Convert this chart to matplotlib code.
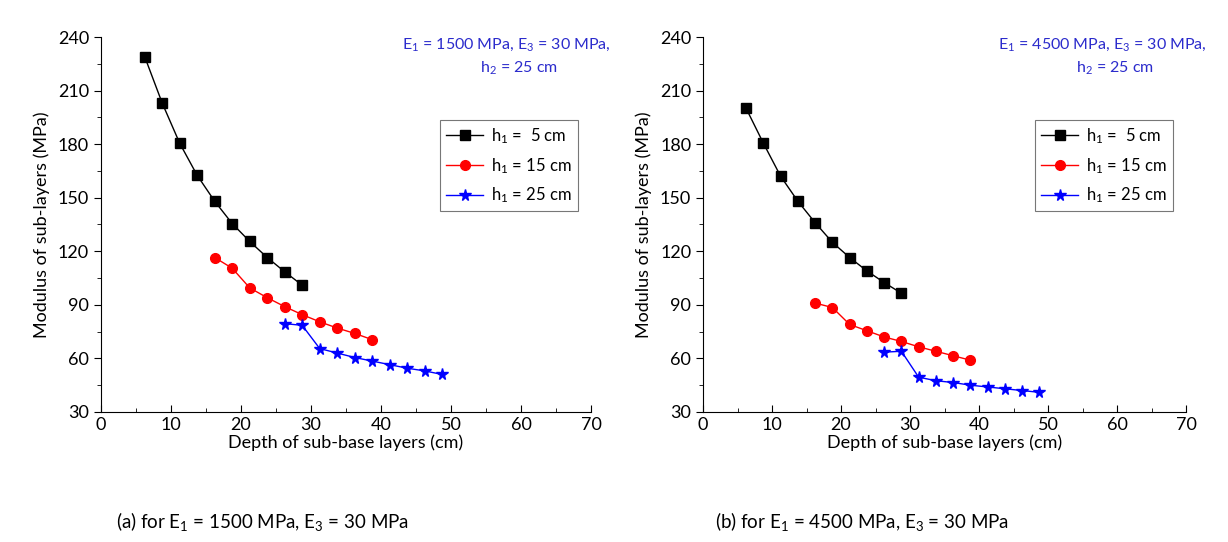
import matplotlib.pyplot as plt

plt.rcParams['font.family'] = ['Lato', 'DejaVu Sans']
plt.rcParams['mathtext.fontset'] = 'custom'
plt.rcParams['mathtext.rm'] = 'Lato'
plt.rcParams['mathtext.it'] = 'Lato'
plt.rcParams['mathtext.default'] = 'rm'

# depth of sub-base layers (cm)
depth_h5 = [6.25, 8.75, 11.25, 13.75, 16.25, 18.75, 21.25, 23.75, 26.25, 28.75]
depth_h15 = [16.25, 18.75, 21.25, 23.75, 26.25, 28.75, 31.25, 33.75, 36.25, 38.75]
depth_h25 = [26.25, 28.75, 31.25, 33.75, 36.25, 38.75, 41.25, 43.75, 46.25, 48.75]

# (a) E1 = 1500 MPa
a_h5 = [229, 203, 180.5, 162.5, 148, 135.5, 125.5, 116.5, 108.5, 101]
a_h15 = [116.5, 110.5, 99.5, 94, 89, 84.5, 80.5, 77, 74, 70.5]
a_h25 = [79.5, 78.5, 65.5, 63, 60.5, 58.5, 56.5, 54.5, 53, 51]

# (b) E1 = 4500 MPa
b_h5 = [200, 180.5, 162, 148, 136, 125, 116.5, 109, 102.5, 96.5]
b_h15 = [91, 88.5, 79, 75.5, 72, 69.5, 66.5, 64, 61.5, 59]
b_h25 = [63.5, 64, 49.5, 47.5, 46.5, 45, 44, 43, 42, 41]

labels = ['h$_1$ =  5 cm', 'h$_1$ = 15 cm', 'h$_1$ = 25 cm']
panels = [
    ('1500', (a_h5, a_h15, a_h25), '(a) for E$_1$ = 1500 MPa, E$_3$ = 30 MPa'),
    ('4500', (b_h5, b_h15, b_h25), '(b) for E$_1$ = 4500 MPa, E$_3$ = 30 MPa'),
]

fig = plt.figure(figsize=(12.28, 5.42), dpi=100)
ax_pos = [[0.0822, 0.2399, 0.3991, 0.6918], [0.5725, 0.2399, 0.3933, 0.6918]]

for pos, (e1, series, caption) in zip(ax_pos, panels):
    ax = fig.add_axes(pos)
    ax.plot(depth_h5, series[0], color='black', marker='s', markersize=6.5, lw=1, label=labels[0])
    ax.plot(depth_h15, series[1], color='red', marker='o', markersize=7, lw=1, label=labels[1])
    ax.plot(depth_h25, series[2], color='blue', marker='*', markersize=8.5, lw=1, label=labels[2])

    ax.set_xlim(0, 70)
    ax.set_ylim(30, 240)
    ax.set_xticks(range(0, 71, 10))
    ax.set_xticks(range(5, 70, 10), minor=True)
    ax.set_yticks(range(30, 241, 30))
    ax.set_yticks(range(45, 240, 30), minor=True)
    ax.tick_params(which='both', labelsize=13)
    ax.tick_params(axis='x', which='both', direction='in')
    ax.tick_params(axis='y', which='both', direction='out')
    ax.tick_params(which='major', length=5)
    ax.tick_params(which='minor', length=3)
    ax.spines['top'].set_visible(False)
    ax.spines['right'].set_visible(False)
    ax.set_xlabel('Depth of sub-base layers (cm)', fontsize=13, labelpad=1)
    ax.set_ylabel('Modulus of sub-layers (MPa)', fontsize=13, labelpad=6)

    ax.text(0.827, 0.981, 'E$_1$ = ' + e1 + ' MPa, E$_3$ = 30 MPa,', transform=ax.transAxes,
            ha='center', va='center', color='#2b2bcc', fontsize=11.5)
    ax.text(0.853, 0.917, 'h$_2$ = 25 cm', transform=ax.transAxes,
            ha='center', va='center', color='#2b2bcc', fontsize=11.5)

    leg = ax.legend(loc='upper right', bbox_to_anchor=(0.99, 0.8), fontsize=12,
                    fancybox=False, edgecolor='#555555', handlelength=2.2,
                    borderpad=0.35, labelspacing=0.6, handletextpad=0.5)
    leg.get_frame().set_linewidth(0.8)

    fig.text(pos[0] + 0.33 * pos[2], 0.037, caption, ha='center', va='center', fontsize=13.5)

plt.savefig('out.png', dpi=100)
